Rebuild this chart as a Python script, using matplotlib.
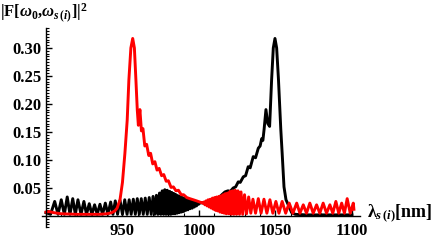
import matplotlib
matplotlib.use('Agg')
import matplotlib.pyplot as plt
from matplotlib.ticker import MultipleLocator, FixedLocator, FormatStrFormatter

plt.rcParams['font.family'] = 'Liberation Serif'
plt.rcParams['font.weight'] = 'bold'
plt.rcParams['mathtext.fontset'] = 'custom'
plt.rcParams['mathtext.rm'] = 'Liberation Serif:bold'
plt.rcParams['mathtext.it'] = 'Liberation Serif:italic:bold'
plt.rcParams['mathtext.bf'] = 'Liberation Serif:bold'

# idler (black) curve: fringes, fast fringes, main peak
black_lam = [900, 903.0, 905.7, 907.9, 910.0, 912.0, 913.9, 915.7, 917.5, 919.2, 920.9, 922.9,
             924.8, 926.5, 928.3, 930.0, 931.8, 933.5, 935.3, 937.0, 938.8, 940.5, 942.3,
             943.8, 945.3, 946.8, 948.4, 950.0, 951.5, 953.0, 954.4, 955.7, 957.1, 958.4,
             959.7, 961.0, 962.3, 963.6, 964.9, 966.2, 967.5, 968.8,
             970.0, 971.1, 972.2, 973.2, 974.2, 975.1, 976.0, 976.9, 977.7, 978.5, 979.3,
             980.1, 980.9, 981.6, 982.3, 983.0, 983.7, 984.4, 985.1, 985.8, 986.5, 987.2,
             987.9, 988.6, 989.3, 990.0, 990.7, 991.4, 992.1, 992.8, 993.5, 994.2, 994.9,
             995.6, 996.3, 997.0, 997.7, 998.4, 999.1, 999.8,
             1001, 1003, 1005, 1007, 1009, 1011.5, 1013, 1015, 1017, 1019, 1020.5,
             1022.4, 1024, 1025.7, 1027, 1029, 1030.5, 1032.2, 1033.5, 1035.5, 1037, 1038.8,
             1040, 1041, 1041.8, 1042.6, 1043.8, 1045, 1046.2, 1047.5, 1048.6, 1049.7, 1050.8,
             1052, 1053.5, 1054.4, 1055.6, 1056.9, 1058.4, 1060.6, 1063, 1070, 1080, 1090, 1100]
black_val = [0.006, 0.003, 0.026, 0.003, 0.029, 0.003, 0.034, 0.003, 0.031, 0.003, 0.029, 0.003,
             0.026, 0.003, 0.022, 0.003, 0.020, 0.003, 0.021, 0.003, 0.023, 0.003, 0.025,
             0.003, 0.027, 0.003, 0.028, 0.003, 0.029, 0.003, 0.029, 0.003, 0.030, 0.003,
             0.031, 0.003, 0.031, 0.003, 0.032, 0.003, 0.033, 0.003,
             0.035, 0.003, 0.037, 0.003, 0.041, 0.003, 0.045, 0.003, 0.047, 0.003, 0.046,
             0.003, 0.044, 0.003, 0.042, 0.004, 0.040, 0.004, 0.038, 0.005, 0.036, 0.006,
             0.035, 0.007, 0.033, 0.008, 0.032, 0.010, 0.030, 0.011, 0.029, 0.013, 0.027,
             0.014, 0.026, 0.016, 0.025, 0.018, 0.024, 0.021,
             0.024, 0.023, 0.026, 0.025, 0.028, 0.031, 0.033, 0.038, 0.043, 0.045, 0.044,
             0.050, 0.052, 0.061, 0.060, 0.070, 0.072, 0.088, 0.086, 0.106, 0.104, 0.121,
             0.125, 0.138, 0.135, 0.155, 0.190, 0.165, 0.160, 0.243, 0.300, 0.317, 0.300,
             0.243, 0.155, 0.112, 0.052, 0.029, 0.020, 0.006, 0.003, 0.002, 0.002, 0.002, 0.002]

# signal (red) curve
red_lam = [900, 902, 905, 910, 920, 930, 935, 940, 943, 945, 946.5, 948.4, 950.0, 951.6, 953.1,
           954.2, 955.5, 956.7, 957.8, 958.8, 959.7, 960.4, 961.4, 962.4, 963.4, 964.6, 965.8,
           967.2, 968.4, 969.8, 971.2, 972.6, 974.0, 975.6, 977.0, 978.6, 980.0, 981.8, 983.3,
           985.0, 986.6, 988.4, 990.0, 992.0, 994.0, 996.3, 998.5, 1000.5, 1002.5,
           1003.2, 1003.9, 1004.6, 1005.3, 1006.0, 1006.7, 1007.4, 1008.1, 1008.8, 1009.5,
           1010.2, 1010.9, 1011.6, 1012.3, 1013.0, 1013.7, 1014.4, 1015.1, 1015.8, 1016.5,
           1017.2, 1017.9, 1018.7, 1019.5, 1020.3, 1021.1, 1021.9, 1022.8, 1023.7, 1024.6,
           1025.5, 1026.5, 1027.5, 1028.6, 1029.8, 1031.1,
           1032.5, 1033.9, 1035.3, 1037.0, 1038.8, 1040.6, 1042.5, 1044.4, 1046.4, 1048.3,
           1050.3, 1052.3, 1054.4, 1056.7, 1059.0, 1061.4, 1063.9, 1066.0, 1068.2, 1070.3,
           1072.5, 1074.7, 1076.9, 1079.0, 1081.2, 1083.4, 1085.6, 1087.5, 1089.5, 1091.4,
           1093.3, 1095.1, 1096.9, 1098.9, 1100.9, 1101.3]
red_val = [0.007, 0.008, 0.006, 0.004, 0.003, 0.003, 0.003, 0.004, 0.006, 0.009, 0.014, 0.029,
           0.060, 0.112, 0.171, 0.243, 0.300, 0.317, 0.300, 0.243, 0.189, 0.162, 0.190, 0.152,
           0.156, 0.125, 0.128, 0.108, 0.112, 0.093, 0.097, 0.082, 0.085, 0.072, 0.074, 0.062,
           0.063, 0.051, 0.052, 0.045, 0.046, 0.038, 0.038, 0.033, 0.031, 0.029, 0.027, 0.025,
           0.023,
           0.025, 0.020, 0.027, 0.018, 0.029, 0.016, 0.030, 0.014, 0.032, 0.012,
           0.033, 0.010, 0.034, 0.009, 0.035, 0.007, 0.036, 0.006, 0.038, 0.005,
           0.040, 0.004, 0.041, 0.004, 0.044, 0.003, 0.045, 0.003, 0.046, 0.003,
           0.045, 0.003, 0.043, 0.003, 0.038, 0.004,
           0.034, 0.005, 0.030, 0.005, 0.031, 0.005, 0.030, 0.005, 0.029, 0.005,
           0.026, 0.005, 0.026, 0.005, 0.023, 0.005, 0.023, 0.005, 0.020, 0.005,
           0.023, 0.005, 0.020, 0.005, 0.023, 0.005, 0.020, 0.005, 0.026, 0.005,
           0.023, 0.005, 0.031, 0.005, 0.023, 0.012]

x_ticks = [950, 1000, 1050, 1100]
y_ticks = [0.05, 0.10, 0.15, 0.20, 0.25, 0.30]

fig = plt.figure(figsize=(4.36, 2.4), dpi=100)
ax = fig.add_axes([0.0956, 0.0533, 0.7298, 0.8308])

lw = 2.1
ax.plot(black_lam, black_val, color='black', lw=lw, solid_joinstyle='round')
ax.plot(red_lam, red_val, color='red', lw=lw, solid_joinstyle='round')

ax.set_xlim(897.2, 1105.2)
ax.set_ylim(-0.02, 0.336)
for s in ['top', 'right']:
    ax.spines[s].set_visible(False)
ax.spines['left'].set_position(('data', 900))
ax.spines['bottom'].set_position(('data', 0))
ax.spines['left'].set_linewidth(1.0)
ax.spines['bottom'].set_linewidth(1.0)

ax.xaxis.set_major_locator(FixedLocator(x_ticks))
ax.xaxis.set_minor_locator(MultipleLocator(10))
ax.yaxis.set_major_locator(FixedLocator(y_ticks))
ax.yaxis.set_minor_locator(MultipleLocator(0.005))
ax.yaxis.set_major_formatter(FormatStrFormatter('%.2f'))
ax.tick_params(which='major', direction='in', length=4, width=1.0, labelsize=12)
ax.tick_params(which='minor', direction='in', length=2, width=0.8)
ax.tick_params(axis='y', which='major', pad=3)
ax.tick_params(axis='x', which='major', pad=5)

fig.text(0.0, 0.995, r'|F[$\omega_0$,$\omega_{s\,(i)}$]|$^2$', ha='left', va='top',
         fontsize=12, fontweight='bold')
fig.text(0.842, 0.11, r'λ$_{s\,(i)}$[nm]', ha='left', va='center',
         fontsize=13, fontweight='bold')

fig.savefig('out.png', dpi=100)
